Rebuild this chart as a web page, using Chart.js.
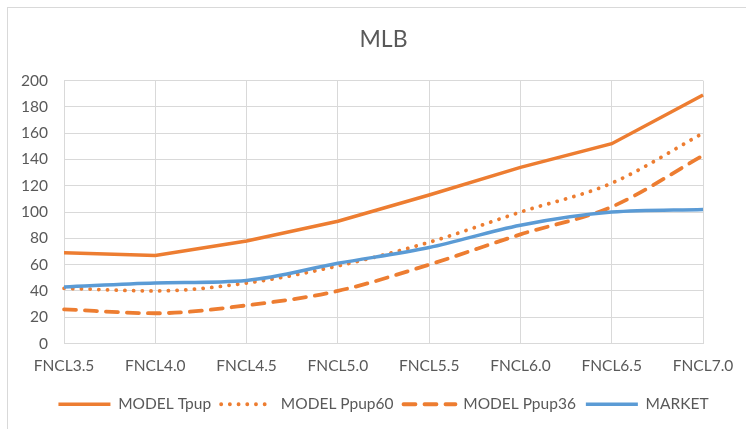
<!DOCTYPE html>
<html>
<head>
<meta charset="utf-8">
<script src="https://cdn.jsdelivr.net/npm/chart.js@4/dist/chart.umd.min.js"></script>
<style>
  html, body { margin: 0; padding: 0; background: #fff; overflow: hidden; }
  #wrap { position: relative; width: 746px; height: 429px; }
  #frame { position: absolute; left: 7px; top: 7px; width: 800px; height: 500px; border: 1px solid #d9d9d9; box-sizing: border-box; }
  #mlb { position: absolute; left: 0; top: 0; }
</style>
</head>
<body>
<div id="wrap">
  <div id="frame"></div>
  <canvas id="mlb" width="746" height="429"></canvas>
</div>
<script>
const labels = ['FNCL3.5', 'FNCL4.0', 'FNCL4.5', 'FNCL5.0', 'FNCL5.5', 'FNCL6.0', 'FNCL6.5', 'FNCL7.0'];
const modelTpup = [69, 67, 78, 93, 113, 134, 152, 189];
const modelPpup60 = [42, 40, 46, 59, 77, 100, 122, 160];
const modelPpup36 = [26, 23, 29, 40, 60, 83, 104, 143];
const market = [43, 46, 48, 61, 73, 90, 100, 102];

const orange = '#ED7D31';
const blue = '#5B9BD5';
const textGray = '#595959';
const gridGray = '#d9d9d9';

Chart.defaults.font.family = 'Lato, sans-serif';
Chart.defaults.color = textGray;

// title and legend are centred over the plot, not the whole canvas
const centreOnPlot = {
  id: 'centreOnPlot',
  afterLayout(chart) {
    const area = chart.chartArea;
    const mid = (area.left + area.right) / 2;
    [chart.titleBlock, chart.legend].forEach((box) => {
      if (!box) return;
      const shift = mid - (box.left + box.right) / 2;
      box.left += shift;
      box.right += shift;
    });
  }
};

const ctx = document.getElementById('mlb');

new Chart(ctx, {
  type: 'line',
  data: {
    labels: labels,
    datasets: [{
      label: 'MODEL Tpup',
      data: modelTpup,
      borderColor: orange,
      backgroundColor: orange,
      borderWidth: 3.5,
      tension: 0,
      order: 1
    }, {
      label: 'MODEL Ppup60',
      data: modelPpup60,
      borderColor: orange,
      backgroundColor: orange,
      borderWidth: 3.8,
      borderDash: [0.1, 8.6],
      borderCapStyle: 'round',
      cubicInterpolationMode: 'monotone',
      order: 2
    }, {
      label: 'MODEL Ppup36',
      data: modelPpup36,
      borderColor: orange,
      backgroundColor: orange,
      borderWidth: 3.8,
      borderDash: [12, 9],
      borderCapStyle: 'round',
      cubicInterpolationMode: 'monotone',
      order: 3
    }, {
      label: 'MARKET',
      data: market,
      borderColor: blue,
      backgroundColor: blue,
      borderWidth: 3.5,
      cubicInterpolationMode: 'monotone',
      order: 0
    }]
  },
  plugins: [centreOnPlot],
  options: {
    responsive: false,
    animation: false,
    events: [],
    elements: {
      point: { radius: 0 }
    },
    layout: {
      padding: { top: 0, left: 0, right: 42, bottom: 7 }
    },
    scales: {
      x: {
        offset: false,
        grid: { color: gridGray, lineWidth: 1, drawTicks: false },
        border: { color: gridGray },
        ticks: { font: { size: 15.5 }, padding: 12.7, maxRotation: 0, autoSkip: false },
        afterFit: (scale) => { scale.height = 43; }
      },
      y: {
        min: 0,
        max: 200,
        grid: { color: gridGray, lineWidth: 1, drawTicks: false },
        border: { color: gridGray },
        ticks: { stepSize: 20, autoSkip: false, font: { size: 15.5 }, padding: 16 },
        afterFit: (scale) => { scale.width = 64; }
      }
    },
    plugins: {
      title: {
        display: true,
        text: 'MLB',
        color: textGray,
        font: { size: 23, weight: 'normal' },
        padding: { top: 26, bottom: 27 }
      },
      legend: {
        position: 'bottom',
        labels: {
          usePointStyle: true,
          pointStyle: 'line',
          pointStyleWidth: 52,
          boxHeight: 15.5,
          padding: 10,
          font: { size: 15.5 },
          color: textGray,
          sort: (a, b) => a.datasetIndex - b.datasetIndex,
          // keep each series' dash pattern in its legend sample
          generateLabels: (chart) => {
            const items = Chart.defaults.plugins.legend.labels.generateLabels(chart);
            items.forEach((item) => {
              const ds = chart.data.datasets[item.datasetIndex];
              item.lineDash = ds.borderDash || [];
              item.lineCap = ds.borderCapStyle || 'butt';
              item.lineWidth = ds.borderWidth;
              item.strokeStyle = ds.borderColor;
            });
            return items;
          }
        }
      },
      tooltip: { enabled: false }
    }
  }
});
</script>
</body>
</html>
